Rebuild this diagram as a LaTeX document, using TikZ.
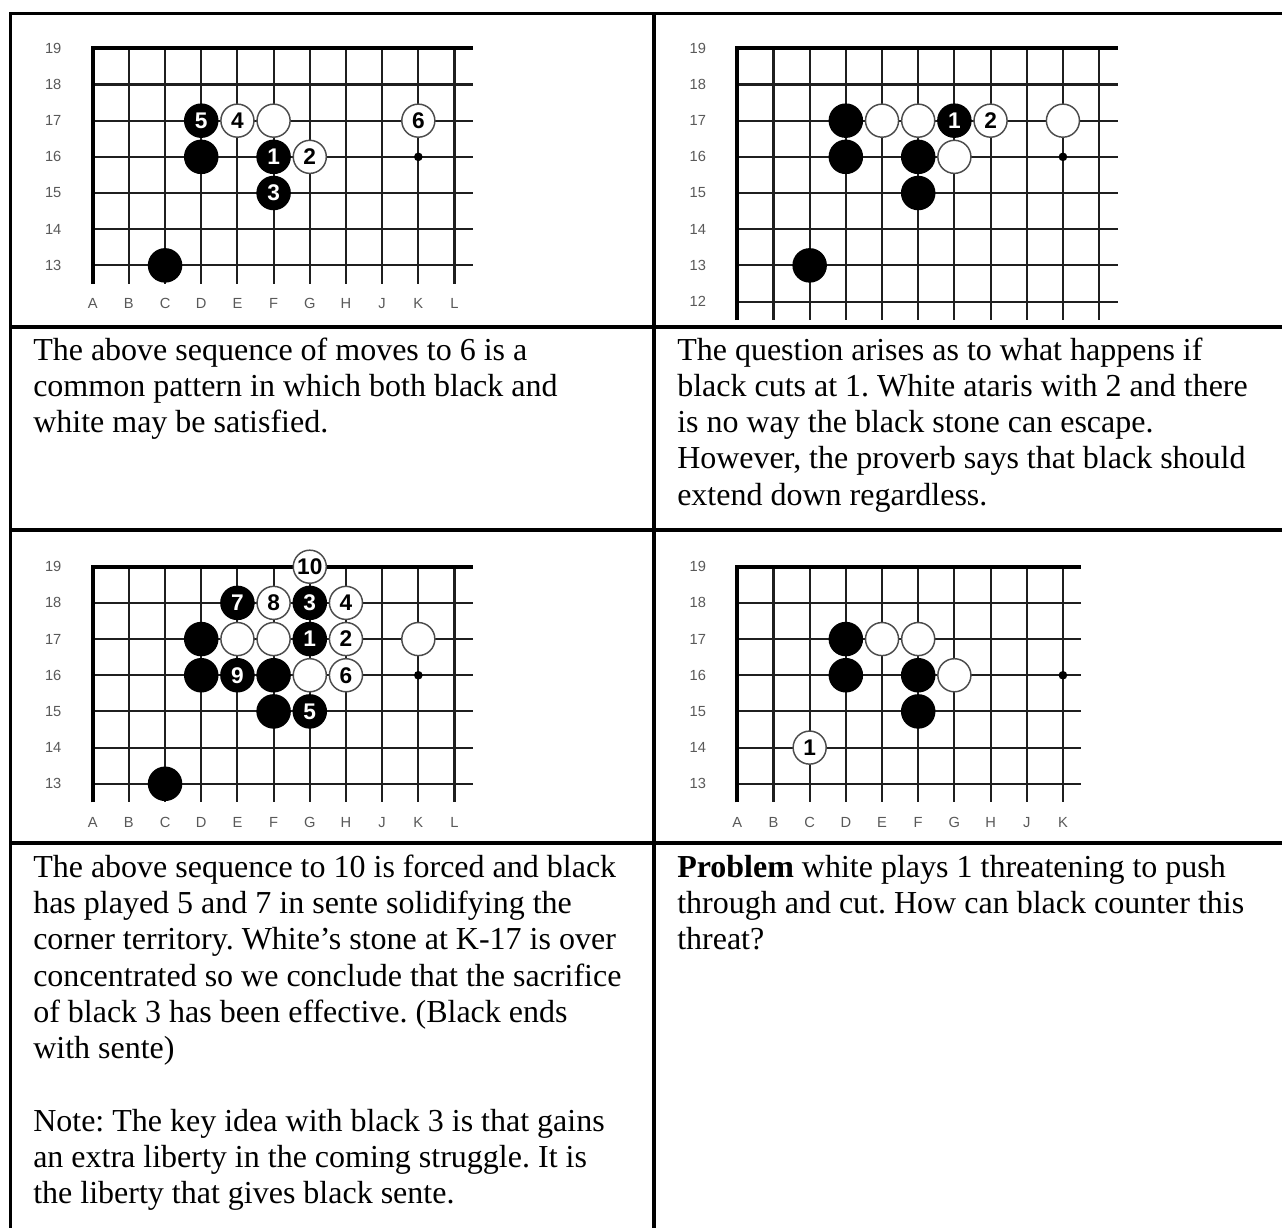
\documentclass[tikz,border=0pt]{standalone}
\usepackage{fontspec}
\setmainfont{Liberation Serif}
\newfontfamily\lblfont{Liberation Sans}
\newfontfamily\stfont{Liberation Sans}
\frenchspacing
\def\gs{36.18}
\newcommand\gostone[5]{%
  \node[#4] (#1-#2-#3) at ({#2*\gs},{(19-#3)*\gs}) {#5};}
% #1 prefix, #2 last column index, #3 last row index
\newcommand\gogrid[3]{%
  \foreach \i in {0,...,#2} \draw[gridline] ({\i*\gs},0) -- ({\i*\gs},{#3*\gs+18.5});
  \foreach \j in {1,...,#3} \draw[gridline] (0,{\j*\gs}) -- ({#2*\gs+18.5},{\j*\gs});
  \draw[edgeline] (0,{#3*\gs+18.5}) -- (0,0) -- ({#2*\gs+18.5},0);
  \foreach \j in {0,...,#3} {\pgfmathtruncatemacro\rn{19-\j}
    \node[lbl] (#1-row-\rn) at (-39.5,{\j*\gs}) {\rn};}
  \node[hoshi] (#1-hoshi) at ({9*\gs},{3*\gs}) {};}
\newcommand\gocols[2]{%
  \foreach \c [count=\k from 0] in {#2}
    \node[lbl] (#1-col-\c) at ({\k*\gs},{6*\gs+38.5}) {\c};}
\begin{document}
\begin{tikzpicture}[x=0.75pt,y=-0.75pt,
  gridline/.style={line width=1.55pt, draw=black!88},
  edgeline/.style={line width=3pt, draw=black, line join=miter},
  border/.style={line width=2.5pt, draw=black, line join=miter},
  lbl/.style={font=\lblfont\fontsize{11}{11}\selectfont, text=black!65, inner sep=0pt},
  bst/.style={circle, fill=black, text=white, minimum size=25.9pt, inner sep=0pt,
    font=\stfont\bfseries\fontsize{17}{17}\selectfont},
  wst/.style={circle, fill=white, draw=black!70, line width=1.1pt, text=black,
    minimum size=24.8pt, inner sep=0pt, font=\stfont\bfseries\fontsize{17}{17}\selectfont},
  hoshi/.style={circle, fill=black, minimum size=6.5pt, inner sep=0pt},
  para/.style={anchor=base west, align=left, inner sep=0pt,
    font=\fontsize{24}{27.2}\selectfont}
]
\useasboundingbox (0,0) rectangle (1282,1228);
\fill[white] (0,0) rectangle (1282,1228);

% ---- table borders
\draw[border] (10.3,1230) -- (10.3,13.3) -- (1284,13.3);
\draw[border] (654,13.3) -- (654,1230);
\draw[border] (10.3,327) -- (1284,327);
\draw[border] (10.3,530) -- (1284,530);
\draw[border] (10.3,843) -- (1284,843);

% ---- board 1
\begin{scope}[shift={(92.7,48.3)}]
  \gogrid{a}{10}{6}
  \gocols{a}{A,B,C,D,E,F,G,H,J,K,L}
  \gostone{a}{2}{13}{bst}{}
  \gostone{a}{3}{16}{bst}{}
  \gostone{a}{3}{17}{bst}{5}
  \gostone{a}{4}{17}{wst}{4}
  \gostone{a}{5}{17}{wst}{}
  \gostone{a}{5}{16}{bst}{1}
  \gostone{a}{6}{16}{wst}{2}
  \gostone{a}{5}{15}{bst}{3}
  \gostone{a}{9}{17}{wst}{6}
\end{scope}

% ---- board 2
\begin{scope}[shift={(737.3,48.3)}]
  \gogrid{b}{10}{7}
  \gostone{b}{3}{17}{bst}{}
  \gostone{b}{4}{17}{wst}{}
  \gostone{b}{5}{17}{wst}{}
  \gostone{b}{6}{17}{bst}{1}
  \gostone{b}{7}{17}{wst}{2}
  \gostone{b}{9}{17}{wst}{}
  \gostone{b}{3}{16}{bst}{}
  \gostone{b}{5}{16}{bst}{}
  \gostone{b}{6}{16}{wst}{}
  \gostone{b}{5}{15}{bst}{}
  \gostone{b}{2}{13}{bst}{}
\end{scope}

% ---- board 3
\begin{scope}[shift={(92.7,566.7)}]
  \gogrid{c}{10}{6}
  \gocols{c}{A,B,C,D,E,F,G,H,J,K,L}
  \gostone{c}{6}{19}{wst}{10}
  \gostone{c}{4}{18}{bst}{7}
  \gostone{c}{5}{18}{wst}{8}
  \gostone{c}{6}{18}{bst}{3}
  \gostone{c}{7}{18}{wst}{4}
  \gostone{c}{3}{17}{bst}{}
  \gostone{c}{4}{17}{wst}{}
  \gostone{c}{5}{17}{wst}{}
  \gostone{c}{6}{17}{bst}{1}
  \gostone{c}{7}{17}{wst}{2}
  \gostone{c}{9}{17}{wst}{}
  \gostone{c}{3}{16}{bst}{}
  \gostone{c}{4}{16}{bst}{9}
  \gostone{c}{5}{16}{bst}{}
  \gostone{c}{6}{16}{wst}{}
  \gostone{c}{7}{16}{wst}{6}
  \gostone{c}{5}{15}{bst}{}
  \gostone{c}{6}{15}{bst}{5}
  \gostone{c}{2}{13}{bst}{}
\end{scope}

% ---- board 4
\begin{scope}[shift={(737.3,566.7)}]
  \gogrid{d}{9}{6}
  \gocols{d}{A,B,C,D,E,F,G,H,J,K}
  \gostone{d}{3}{17}{bst}{}
  \gostone{d}{4}{17}{wst}{}
  \gostone{d}{5}{17}{wst}{}
  \gostone{d}{3}{16}{bst}{}
  \gostone{d}{5}{16}{bst}{}
  \gostone{d}{6}{16}{wst}{}
  \gostone{d}{5}{15}{bst}{}
  \gostone{d}{2}{14}{wst}{1}
\end{scope}

% ---- texts (anchor = baseline of the last line)
\node[para] (t1) at (33,432.6) {The above sequence of moves to 6 is a\\common pattern in which both black and\\white may be satisfied.};
\node[para] (t2) at (677,505.2) {The question arises as to what happens if\\black cuts at 1. White ataris with 2 and there\\is no way the black stone can escape.\\However, the proverb says that black should\\extend down regardless.};
\node[para] (t3) at (33,1203.7) {The above sequence to 10 is forced and black\\has played 5 and 7 in sente solidifying the\\corner territory. White’s stone at K-17 is over\\concentrated so we conclude that the sacrifice\\of black 3 has been effective. (Black ends\\with sente)\\\mbox{}\\Note: The key idea with black 3 is that gains\\an extra liberty in the coming struggle. It is\\the liberty that gives black sente.};
\node[para] (t4) at (677,949.6) {\textbf{Problem} white plays 1 threatening to push\\through and cut. How can black counter this\\threat?};
\end{tikzpicture}
\end{document}
